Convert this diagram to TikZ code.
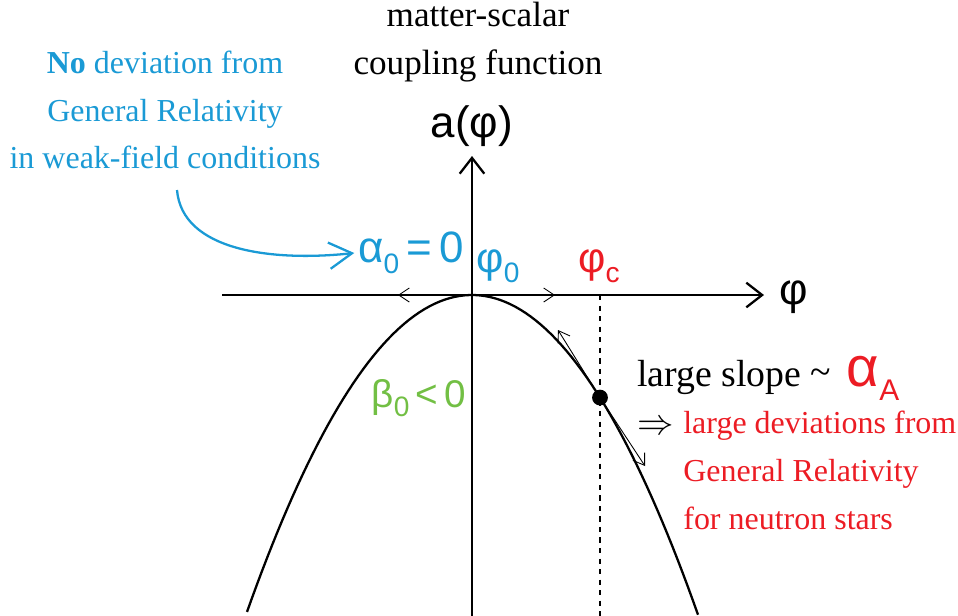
\documentclass[tikz,border=0pt]{standalone}
\usepackage{fontspec}
\setmainfont{Liberation Serif}
\newfontfamily\grk{Liberation Sans}
\usetikzlibrary{arrows.meta}
\definecolor{weakblue}{HTML}{1A9AD5}
\definecolor{strongred}{HTML}{EC1C24}
\definecolor{betagreen}{HTML}{72BF44}
\newcommand{\lowsub}[1]{\raisebox{-0.45ex}{\fontsize{16pt}{16pt}\selectfont #1}}

\begin{document}
\begin{tikzpicture}[
  x=0.02cm, y=-0.02cm,
  txt/.style={font=\fontsize{18.2pt}{27.2pt}\selectfont, inner sep=0pt, align=center},
  sym/.style={font=\fontsize{24pt}{28pt}\selectfont\grk, inner sep=0pt},
  axis/.style={line width=1.3pt, -{Straight Barb[length=9pt,width=14pt,line width=1.3pt]}},
  curve/.style={line width=1.3pt},
  slim/.style={line width=0.5pt, -{Straight Barb[length=6pt,width=8pt,line width=0.5pt]}},
  bluearr/.style={weakblue, line width=1.3pt, -{Straight Barb[length=13pt,width=15pt,line width=1.3pt]}}
]
\useasboundingbox (0,0) rectangle (958,616);
% axes
\coordinate (xstart) at (222,295);
\coordinate (xend) at (764,295);
\coordinate (ybot) at (472,616);
\coordinate (ytop) at (472,156);
\coordinate (origin) at (472,295);
\draw[axis] (xstart) -- (xend);
\draw[axis] (ybot) -- (ytop);
% coupling function
\draw[curve] plot[domain=247:698, samples=90] (\x, {295+62.6*((\x-472)/100)^2});
\coordinate (crit) at (600,{295+62.6*1.28^2});
\coordinate (critbot) at (600,616);
\draw[line width=1.3pt, dash pattern=on 3pt off 3pt] (crit |- origin) -- (critbot);
\fill (crit) circle (4.5pt);
% tangents
\coordinate (lefttip) at (398,295);
\coordinate (righttip) at (555,295);
\draw[slim] (origin) -- (lefttip);
\draw[slim] (origin) -- (righttip);
\coordinate (tanup) at (558,330);
\coordinate (tandown) at (645,466);
\draw[slim] (crit) -- (tanup);
\draw[slim] (crit) -- (tandown);
% labels
\node[txt, font=\fontsize{20pt}{27.2pt}\selectfont] (title) at (478,42) {matter-scalar\\coupling function};
\node[sym, font=\fontsize{25pt}{28pt}\selectfont\grk] (alabel) at (472,126) {a(φ)};
\node[sym, font=\fontsize{25pt}{28pt}\selectfont\grk] (philabel) at (794,297) {φ};
\node[txt, text=weakblue] (weak) at (165,110)
  {\textbf{No} deviation from\\General Relativity\\in weak-field conditions};
\node[sym, text=weakblue, font=\fontsize{25pt}{28pt}\selectfont\grk] (alpha0) at (411,253) {α\lowsub{0}\,=\,0};
\node[sym, text=weakblue] (phi0) at (498,266) {φ\lowsub{0}};
\node[sym, text=strongred] (phic) at (599,266) {φ\lowsub{c}};
\node[sym, text=betagreen, font=\fontsize{22pt}{26pt}\selectfont\grk] (beta0) at (419,398) {β\lowsub{0}\,<\,0};
\node[anchor=west, inner sep=0pt, font=\fontsize{21.5pt}{24pt}\selectfont] (slope) at (637,378)
  {large slope \raisebox{0.1ex}{\textasciitilde}\, {\color{strongred}\grk\fontsize{32pt}{32pt}\selectfont α\raisebox{-8pt}{\fontsize{17pt}{17pt}\selectfont A}}};
\node[anchor=west, inner sep=0pt, font=\fontsize{22pt}{22pt}\selectfont] (implies) at (637,428) {$\Rightarrow$};
\node[txt, text=strongred, align=left, anchor=north west] (strong) at (683,411)
  {large deviations from\\General Relativity\\for neutron stars};
% pointer to the flat top
\coordinate (pointer) at (177,190);
\draw[bluearr] (pointer) .. controls (182,250) and (270,262) .. ([xshift=-2pt]alpha0.west);
\end{tikzpicture}
\end{document}
